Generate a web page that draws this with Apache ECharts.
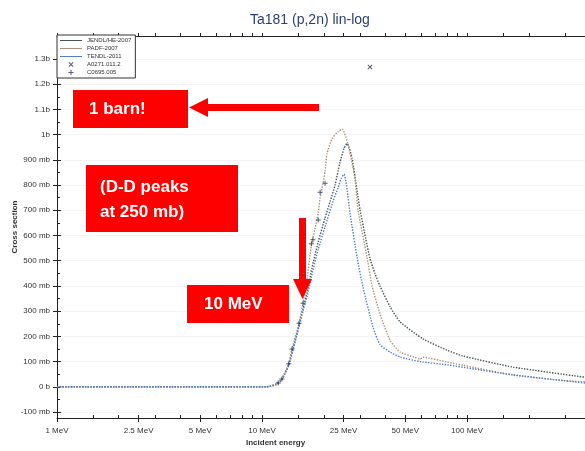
<!DOCTYPE html>
<html>
<head>
<meta charset="utf-8">
<script src="https://cdn.jsdelivr.net/npm/echarts@6/dist/echarts.min.js"></script>
<style>
  html, body { margin: 0; padding: 0; background: #ffffff; }
  #chart { width: 585px; height: 451px; }
</style>
</head>
<body>
<div id="chart"></div>
<script>
// Ta181 (p,2n) evaluated cross sections, incident energy in MeV, cross section in mb
const energyJENDL = [1, 10.5, 11.7, 12.5, 13.5, 14.2, 15.15, 15.85, 16.6, 17.5, 18.8, 20.3, 21.5, 22.7, 24.0, 25.1, 26.0, 27.5, 29.1, 30.1, 32.0, 33.6, 35.5, 37.6, 42.1, 47.1, 61, 80, 95.6, 168, 376];
const xsJENDL     = [0, 0, 10, 30, 88, 155, 245, 312, 375, 470, 575, 670, 736, 800, 890, 945, 965, 905, 775, 700, 590, 510, 450, 400, 318, 258, 190, 145, 122, 78, 38];

const energyPADF = [1, 10.5, 11.7, 12.5, 13.5, 14.0, 15.15, 15.85, 16.6, 17.4, 18.1, 18.8, 19.2, 19.8, 20.3, 20.75, 22.0, 23.5, 24.6, 26.25, 28.4, 29.4, 32.5, 34.4, 37.6, 42.1, 47.1, 55, 59, 61, 80, 95.6, 168, 294, 376];
const xsPADF     = [0, 0, 12, 35, 95, 150, 252, 335, 430, 560, 625, 690, 750, 805, 855, 925, 985, 1012, 1022, 961, 827, 700, 515, 400, 290, 185, 138, 118, 110, 117, 98, 85, 47, 25, 20];

const energyTENDL = [1, 10.5, 11.7, 12.5, 13.5, 14.2, 15.15, 15.85, 16.6, 17.5, 18.8, 20.3, 22.2, 23.5, 24.3, 25.1, 25.8, 26.9, 29.1, 31.1, 34.8, 37.6, 42.1, 47.1, 59, 80, 168, 376];
const xsTENDL     = [0, 0, 8, 28, 85, 150, 238, 300, 360, 445, 545, 635, 736, 790, 825, 843, 800, 685, 512, 394, 236, 168, 138, 118, 100, 87, 47, 15];

// Measured points
const energyA0271 = [33.6];
const xsA0271     = [1268];
const energyC0695 = [12.0, 12.5, 13.5, 14.0, 15.15, 15.85, 17.4, 17.7, 18.8, 19.2, 20.3];
const xsC0695     = [15, 31, 91, 150, 252, 331, 567, 583, 661, 772, 807];

// Axis ticks and visible energy range (MeV)
const xMin = 1, xMax = 376;
const xMajorTicks = [1, 2.5, 5, 10, 25, 50, 100];
const xMinorTicks = [1.5, 2, 3, 4, 6, 7, 8, 9, 15, 20, 30, 40, 60, 70, 80, 90, 150, 200, 300];
const yMin = -100, yMax = 1300, yStep = 100;

const FONT = 'Liberation Sans, Arial, Helvetica, sans-serif';
const zip = (xs, ys) => xs.map((x, i) => [x, ys[i]]);
const lg = v => Math.log10(v);
const majorLog = xMajorTicks.map(lg);
const allLog = xMajorTicks.concat(xMinorTicks).map(lg);

const fmtEnergy = v => {
  const e = Math.round(Math.pow(10, v) * 10) / 10;
  return e + ' MeV';
};
const fmtXs = v => {
  if (v === 0) return '0 b';
  if (Math.abs(v) >= 1000) return (v / 1000) + 'b';
  return v + ' mb';
};

const AXIS_COLOR = '#222';
const C_JENDL = '#44544b', C_PADF = '#a8927a', C_TENDL = '#4f7fc4', C_EXP = '#2b2e57';
const plusPath = 'path://M4,0H6V4H10V6H6V10H4V6H0V4H4Z';
const crossPath = 'path://M1.4,0L5,3.6L8.6,0L10,1.4L6.4,5L10,8.6L8.6,10L5,6.4L1.4,10L0,8.6L3.6,5L0,1.4Z';
const linePath = 'path://M0,0H44V2H0Z';

const chart = echarts.init(document.getElementById('chart'), null, { renderer: 'canvas' });

const lineSeries = (name, xs, ys, color) => ({
  name, type: 'line', xAxisIndex: 0, yAxisIndex: 1,
  data: zip(xs, ys), symbol: 'none', smooth: 0.2,
  lineStyle: { color, width: 1.4, type: 'dotted' }, itemStyle: { color }, z: 3
});

chart.setOption({
  backgroundColor: '#ffffff',
  animation: false,
  title: {
    text: 'Ta181 (p,2n) lin-log',
    left: 245, top: 8,
    textStyle: { fontFamily: FONT, fontSize: 14, fontWeight: 'normal', color: '#2c416f' }
  },
  legend: {
    orient: 'vertical',
    left: 57, top: 35,
    itemWidth: 22, itemHeight: 5, itemGap: 1,
    padding: [2, 4, 2, 3],
    backgroundColor: '#ffffff',
    borderColor: '#333', borderWidth: 1,
    textStyle: { fontFamily: FONT, fontSize: 6, color: '#333', lineHeight: 7 },
    data: [
      { name: 'JENDL/HE-2007', icon: linePath },
      { name: 'PADF-2007', icon: linePath },
      { name: 'TENDL-2011', icon: linePath },
      { name: 'A0271.011.2' },
      { name: 'C0695.005' }
    ]
  },
  grid: [
    { left: 57, top: 36, right: 0, height: 382 },   // outer frame
    { left: 57, top: 59, right: 0, height: 353 }    // data area, -100 mb .. 1.3 b
  ],
  xAxis: [
    { type: 'log', logBase: 10, min: xMin, max: xMax, gridIndex: 1, show: false },
    {
      type: 'value', gridIndex: 0, min: lg(xMin), max: lg(xMax), position: 'bottom',
      axisLine: { show: true, lineStyle: { color: AXIS_COLOR, width: 1 } },
      axisTick: { show: true, inside: false, length: 4, customValues: majorLog, lineStyle: { color: AXIS_COLOR } },
      axisLabel: { customValues: majorLog, formatter: fmtEnergy, fontFamily: FONT, fontSize: 8, color: '#333', margin: 9 },
      splitLine: { show: false }
    },
    {
      type: 'value', gridIndex: 0, min: lg(xMin), max: lg(xMax), position: 'bottom',
      axisLine: { show: false },
      axisTick: { show: true, inside: true, length: 3, customValues: allLog, lineStyle: { color: AXIS_COLOR } },
      axisLabel: { show: false },
      splitLine: { show: false }
    },
    {
      type: 'value', gridIndex: 0, min: lg(xMin), max: lg(xMax), position: 'top',
      axisLine: { show: true, lineStyle: { color: AXIS_COLOR, width: 1 } },
      axisTick: { show: true, inside: false, length: 3, customValues: allLog, lineStyle: { color: AXIS_COLOR } },
      axisLabel: { show: false },
      splitLine: { show: false }
    }
  ],
  yAxis: [
    {
      type: 'value', gridIndex: 0, min: 0, max: 1, position: 'left',
      axisLine: { show: true, lineStyle: { color: AXIS_COLOR, width: 1 } },
      axisTick: { show: false }, axisLabel: { show: false }, splitLine: { show: false },
      name: 'Cross section', nameLocation: 'middle', nameGap: 38,
      nameTextStyle: { fontFamily: FONT, fontSize: 8, fontWeight: 'bold', color: '#333' }
    },
    {
      type: 'value', gridIndex: 1, min: yMin, max: yMax, interval: yStep, position: 'left',
      axisLine: { show: false },
      axisTick: { show: true, inside: false, length: 4, lineStyle: { color: AXIS_COLOR } },
      axisLabel: { formatter: fmtXs, fontFamily: FONT, fontSize: 8, color: '#333', margin: 7 },
      splitLine: { show: true, lineStyle: { color: '#f4f4f4', width: 1 } }
    },
    {
      type: 'value', gridIndex: 1, min: yMin, max: yMax, interval: yStep, position: 'left',
      axisLine: { show: false },
      axisTick: { show: true, inside: true, length: 4, lineStyle: { color: AXIS_COLOR } },
      minorTick: { show: true, splitNumber: 2, length: 3, lineStyle: { color: AXIS_COLOR } },
      axisLabel: { show: false },
      splitLine: { show: false }
    }
  ],
  series: [
    lineSeries('JENDL/HE-2007', energyJENDL, xsJENDL, C_JENDL),
    lineSeries('PADF-2007', energyPADF, xsPADF, C_PADF),
    lineSeries('TENDL-2011', energyTENDL, xsTENDL, C_TENDL),
    {
      name: 'A0271.011.2', type: 'scatter', xAxisIndex: 0, yAxisIndex: 1,
      data: zip(energyA0271, xsA0271), symbol: crossPath, symbolSize: 5,
      itemStyle: { color: C_EXP }, z: 4
    },
    {
      name: 'C0695.005', type: 'scatter', xAxisIndex: 0, yAxisIndex: 1,
      data: zip(energyC0695, xsC0695), symbol: plusPath, symbolSize: 5,
      itemStyle: { color: C_EXP }, z: 4
    }
  ],
  graphic: [
    {
      type: 'text', left: 246, top: 439, z: 50,
      style: { text: 'Incident energy', fontFamily: FONT, fontSize: 8, fontWeight: 'bold', fill: '#333' }
    },
    // "1 barn!" callout
    { type: 'rect', shape: { x: 73, y: 90, width: 115, height: 38 }, style: { fill: '#ff0000' }, z: 100 },
    {
      type: 'text', x: 89, y: 109, z: 101,
      style: { text: '1 barn!', fontFamily: FONT, fontSize: 17, fontWeight: 'bold', fill: '#ffffff', verticalAlign: 'middle' }
    },
    { type: 'rect', shape: { x: 206, y: 104, width: 113, height: 7 }, style: { fill: '#ff0000' }, z: 100 },
    { type: 'polygon', shape: { points: [[189, 107.5], [208, 98], [208, 117]] }, style: { fill: '#ff0000' }, z: 100 },
    // D-D callout
    { type: 'rect', shape: { x: 86, y: 165, width: 152, height: 67 }, style: { fill: '#ff0000' }, z: 100 },
    {
      type: 'text', x: 100, y: 175, z: 101,
      style: { text: '(D-D peaks\nat 250 mb)', fontFamily: FONT, fontSize: 17, fontWeight: 'bold', fill: '#ffffff', lineHeight: 25 }
    },
    // 10 MeV callout
    { type: 'rect', shape: { x: 187, y: 285, width: 102, height: 38 }, style: { fill: '#ff0000' }, z: 100 },
    {
      type: 'text', x: 204, y: 304, z: 101,
      style: { text: '10 MeV', fontFamily: FONT, fontSize: 17, fontWeight: 'bold', fill: '#ffffff', verticalAlign: 'middle' }
    },
    { type: 'rect', shape: { x: 299, y: 218, width: 7, height: 63 }, style: { fill: '#ff0000' }, z: 100 },
    { type: 'polygon', shape: { points: [[293, 279], [312, 279], [302.5, 299]] }, style: { fill: '#ff0000' }, z: 100 }
  ]
});
</script>
</body>
</html>
